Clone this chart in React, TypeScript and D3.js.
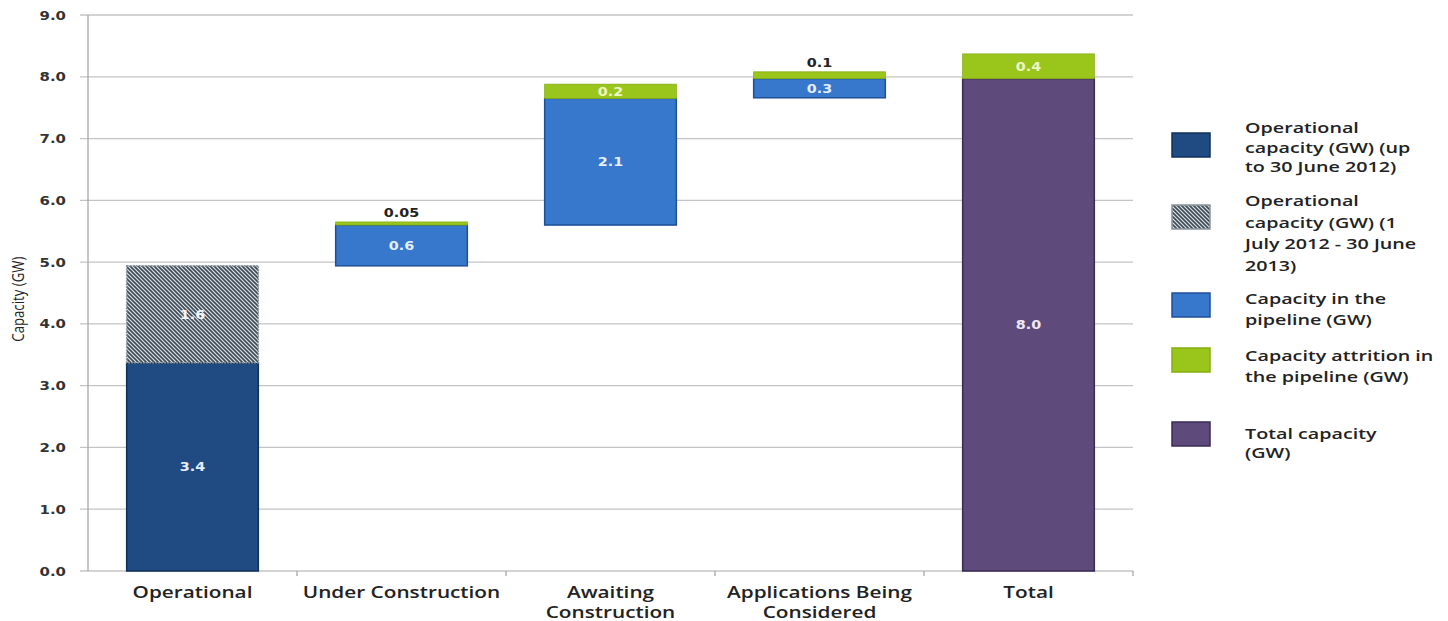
import React from "react";
import * as d3 from "d3";

const categories = ["Operational", "Under Construction", "Awaiting Construction", "Applications Being Considered", "Total"];
const categoryLines = [["Operational"], ["Under Construction"], ["Awaiting", "Construction"], ["Applications Being", "Considered"], ["Total"]];

// floating offsets (invisible base of each waterfall column)
const offsets = [0, 4.94, 5.6, 7.66, 0];
const opHistoric = [3.37, 0, 0, 0, 0];
const opRecent = [1.57, 0, 0, 0, 0];
const pipeline = [0, 0.66, 2.05, 0.31, 0];
const attrition = [0, 0.05, 0.23, 0.11, 0.4];
const total = [0, 0, 0, 0, 7.97];

const opHistoricLabels = ["3.4", "", "", "", ""];
const opRecentLabels = ["1.6", "", "", "", ""];
const pipelineLabels = ["", "0.6", "2.1", "0.3", ""];
const attritionLabels = ["", "0.05", "0.2", "0.1", "0.4"];
const totalLabels = ["", "", "", "", "8.0"];
const attritionLabelOutside = [false, true, false, true, false];

const yTicks = [0, 1, 2, 3, 4, 5, 6, 7, 8, 9];

const legendItems = [
  { key: "opHistoric", lines: ["Operational", "capacity  (GW) (up", "to 30 June 2012)"] },
  { key: "opRecent", lines: ["Operational", "capacity (GW)  (1", "July 2012 - 30 June", "2013)"] },
  { key: "pipeline", lines: ["Capacity in the", "pipeline (GW)"] },
  { key: "attrition", lines: ["Capacity attrition in", "the pipeline (GW)"] },
  { key: "total", lines: ["Total capacity", "(GW)"] },
];

const fills: Record<string, string> = {
  opHistoric: "#1f4a82",
  opRecent: "url(#hatch)",
  pipeline: "#3777cc",
  attrition: "#9ac61c",
  total: "#5f4a7c",
};
const strokes: Record<string, string> = {
  opHistoric: "#10305c",
  opRecent: "#8a949c",
  pipeline: "#1f4f98",
  attrition: "#86ad12",
  total: "#3a2b56",
};
const labelColors: Record<string, string> = {
  opHistoric: "#e6eefa",
  opRecent: "#f4f6f8",
  pipeline: "#e3eeff",
  attrition: "#eef6c4",
  total: "#efe8f6",
};

const T = ({ x, y, sx = 1.3, children, ...rest }: any) => (
  <text transform={`translate(${x},${y}) scale(${sx},1)`} {...rest}>
    {children}
  </text>
);

export default function App() {
  const W = 1448, H = 621;
  const x = d3.scaleBand<string>().domain(categories).range([88, 1133]).paddingInner(0.37).paddingOuter(0.185);
  const y = d3.scaleLinear().domain([0, 9]).range([571, 15]);

  const rows = categories.map((c, i) => ({
    cat: c,
    base: offsets[i],
    opHistoric: opHistoric[i],
    opRecent: opRecent[i],
    pipeline: pipeline[i],
    attrition: attrition[i],
    total: total[i],
  }));
  const keys = ["base", "opHistoric", "opRecent", "pipeline", "total", "attrition"];
  const stack = d3.stack<any>().keys(keys)(rows);
  const labelMap: Record<string, string[]> = {
    opHistoric: opHistoricLabels,
    opRecent: opRecentLabels,
    pipeline: pipelineLabels,
    attrition: attritionLabels,
    total: totalLabels,
  };

  const bw = x.bandwidth();
  const step = x.step();
  const font = "'Open Sans', 'DejaVu Sans', sans-serif";
  const numFont = "'DejaVu Sans', Verdana, sans-serif";

  return (
    <svg width={W} height={H} style={{ position: "absolute", left: 0, top: 0, background: "#fff" }}>
      <defs>
        <pattern id="hatch" patternUnits="userSpaceOnUse" width="4" height="4">
          <rect width="4" height="4" fill="#dfe4e8" />
          <path d="M-1,-1 L5,5 M-1,3 L1,5 M3,-1 L5,1" stroke="#3c4955" strokeWidth="1.6" />
        </pattern>
      </defs>

      {/* gridlines */}
      {yTicks.map((t) => (
        <line key={t} x1={80} x2={1133} y1={y(t)} y2={y(t)} stroke="#c4c4c4" strokeWidth={1.3} />
      ))}
      {/* y axis */}
      <line x1={88} x2={88} y1={y(9)} y2={y(0)} stroke="#a8a8a8" strokeWidth={1.3} />
      {/* x axis ticks */}
      {d3.range(categories.length + 1).map((i) => {
        const xx = 88 + i * step;
        return i === 0 ? null : (
          <line key={i} x1={xx} x2={xx} y1={y(0)} y2={y(0) + 5} stroke="#a8a8a8" strokeWidth={1.3} />
        );
      })}

      {/* y tick labels */}
      {yTicks.map((t) => (
        <T key={t} x={66} y={y(t) + 4.5} sx={1.3} textAnchor="end" fontFamily={numFont} fontWeight="bold" fontSize={11.5} fill="#333">
          {d3.format(".1f")(t)}
        </T>
      ))}

      {/* axis title */}
      <text transform={`translate(24,${y(4.4)}) rotate(-90) scale(0.8,1)`} textAnchor="middle" fontFamily="'Open Sans', sans-serif" fontWeight={500} fontSize={16.5} fill="#222">
        Capacity (GW)
      </text>

      {/* bars */}
      {stack
        .filter((s) => s.key !== "base")
        .map((s) => (
          <g key={s.key}>
            {s.map((d, i) => {
              const v = d[1] - d[0];
              if (v <= 0) return null;
              const x0 = x(categories[i])!;
              const top = y(d[1]);
              const h = y(d[0]) - y(d[1]);
              return (
                <rect
                  key={i}
                  x={x0}
                  y={top}
                  width={bw}
                  height={h}
                  fill={fills[s.key]}
                  stroke={strokes[s.key]}
                  strokeWidth={s.key === "attrition" ? 0.8 : 1.5}
                  strokeDasharray={s.key === "opRecent" ? "2,1" : undefined}
                />
              );
            })}
          </g>
        ))}

      {/* labels */}
      {stack
        .filter((s) => s.key !== "base")
        .map((s) => (
          <g key={"l" + s.key}>
            {s.map((d, i) => {
              const lab = labelMap[s.key][i];
              if (!lab) return null;
              const cx = x(categories[i])! + bw / 2;
              const outside = s.key === "attrition" && attritionLabelOutside[i];
              const yy = outside ? y(d[1]) - 5 : (y(d[0]) + y(d[1])) / 2 + 4.5;
              return (
                <T key={i} x={cx} y={yy} sx={1.25} textAnchor="middle" fontFamily={numFont} fontWeight="bold" fontSize={11.5} fill={outside ? "#222" : labelColors[s.key]}>
                  {lab}
                </T>
              );
            })}
          </g>
        ))}

      {/* category labels */}
      {categories.map((c, i) => (
        <g key={c}>
          {categoryLines[i].map((ln, j) => (
            <T key={j} x={x(c)! + bw / 2} y={598 + j * 20} sx={1.34} textAnchor="middle" fontFamily={font} fontWeight={600} fontSize={15.5} fill="#222">
              {ln}
            </T>
          ))}
        </g>
      ))}

      {/* legend */}
      {(() => {
        const tops = [133, 205, 293, 348, 422];
        const textTops = [133, 206, 304, 361, 439];
        const spacing = [19.5, 21.5, 21, 20.5, 19];
        return legendItems.map((it, k) => (
          <g key={it.key}>
            <rect x={1172} y={tops[k]} width={38} height={24} fill={fills[it.key]} stroke={strokes[it.key]} strokeWidth={1.5} />
            {it.lines.map((ln, j) => (
              <T key={j} x={1245} y={textTops[k] + j * spacing[k]} sx={1.36} fontFamily={font} fontWeight={600} fontSize={14.5} fill="#222">
                {ln}
              </T>
            ))}
          </g>
        ));
      })()}
    </svg>
  );
}
